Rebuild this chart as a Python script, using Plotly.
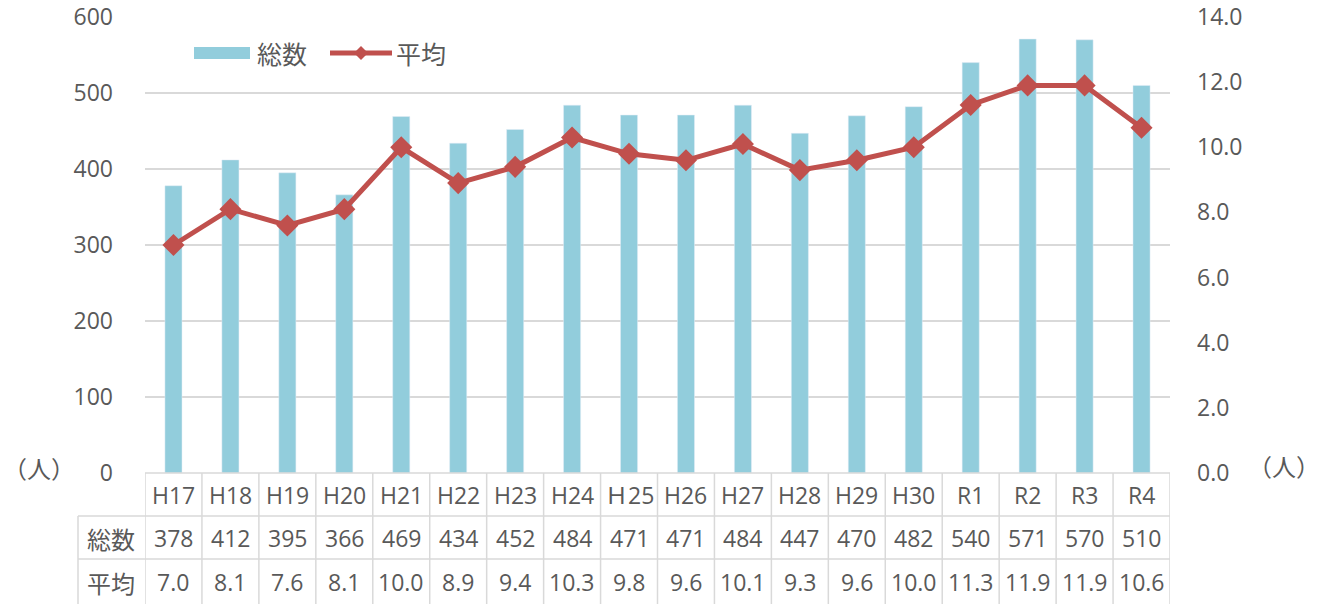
import plotly.graph_objects as go

categories = ["H17", "H18", "H19", "H20", "H21", "H22", "H23", "H24", "Ｈ25", "H26",
              "H27", "H28", "H29", "H30", "R1", "R2", "R3", "R4"]
totals = [378, 412, 395, 366, 469, 434, 452, 484, 471, 471, 484, 447, 470, 482, 540, 571, 570, 510]
averages = [7.0, 8.1, 7.6, 8.1, 10.0, 8.9, 9.4, 10.3, 9.8, 9.6, 10.1, 9.3, 9.6, 10.0, 11.3, 11.9, 11.9, 10.6]
row_labels = ["総数", "平均"]
left_ticks = [0, 100, 200, 300, 400, 500, 600]
right_ticks = [0, 2, 4, 6, 8, 10, 12, 14]

BAR = "#92CDDC"
LINE = "#C0504D"
TXT = "#595959"
GRID = "#D9D9D9"
FONT = "Open Sans, Noto Sans CJK JP, sans-serif"
CJK = "Noto Sans CJK JP, sans-serif"

W, H = 1324, 604
# design coordinates are in screenshot pixels
PL, PR, PT, PB = 145, 1170, 17, 473
L, T, R, B = PL, PT, W - PR, H - PB
PW, PH = PR - PL, PB - PT

def px_x(p):
    return (p - PL) / PW

def px_y(p):
    return (PB - p) / PH

fig = go.Figure()
fig.add_trace(go.Bar(x=categories, y=totals, name="総数", marker_color=BAR,
                     width=0.3, yaxis="y", showlegend=False))
fig.add_trace(go.Scatter(x=categories, y=averages, name="平均", mode="lines+markers",
                         line=dict(color=LINE, width=5),
                         marker=dict(symbol="diamond", size=17, color=LINE),
                         yaxis="y2", showlegend=False))

shapes = []
annotations = []
n = len(categories)
y_top = 0
y_r1 = px_y(516)
y_r2 = px_y(559)
y_bot = px_y(604)
x_lab = px_x(78)
lw = 1.5

shapes.append(dict(type="line", xref="paper", yref="paper", x0=0, x1=1, y0=y_top, y1=y_top,
                   line=dict(color=GRID, width=lw)))
for yy in (y_r1, y_r2):
    shapes.append(dict(type="line", xref="paper", yref="paper", x0=x_lab, x1=1, y0=yy, y1=yy,
                       line=dict(color=GRID, width=lw)))
for i in range(n + 1):
    shapes.append(dict(type="line", xref="x", yref="paper", x0=i - 0.5, x1=i - 0.5,
                       y0=y_top, y1=y_bot, line=dict(color=GRID, width=lw)))
shapes.append(dict(type="line", xref="paper", yref="paper", x0=x_lab, x1=x_lab,
                   y0=y_r1, y1=y_bot, line=dict(color=GRID, width=lw)))

yc_head = px_y(495)
yc_tot = px_y(538)
yc_avg = px_y(582)
tf = dict(family=FONT, size=23, color=TXT)
cf = dict(family=CJK, size=24, color=TXT)
for i, c in enumerate(categories):
    annotations.append(dict(x=i, y=yc_head, xref="x", yref="paper", text=c, showarrow=False,
                            font=tf, xanchor="center", yanchor="middle"))
    annotations.append(dict(x=i, y=yc_tot, xref="x", yref="paper", text=str(totals[i]),
                            showarrow=False, font=tf, xanchor="center", yanchor="middle"))
    annotations.append(dict(x=i, y=yc_avg, xref="x", yref="paper", text=f"{averages[i]:.1f}",
                            showarrow=False, font=tf, xanchor="center", yanchor="middle"))
xc_lab = px_x(111)
for lab, yc in zip(row_labels, (yc_tot, yc_avg)):
    annotations.append(dict(x=xc_lab, y=yc, xref="paper", yref="paper", text=lab,
                            showarrow=False, font=cf, xanchor="center", yanchor="middle"))

annotations.append(dict(x=px_x(1), y=px_y(467), xref="paper", yref="paper", text="（人）",
                        showarrow=False, font=cf, xanchor="left", yanchor="middle"))
annotations.append(dict(x=px_x(1284), y=px_y(465), xref="paper", yref="paper", text="（人）",
                        showarrow=False, font=cf, xanchor="center", yanchor="middle"))

# legend
shapes.append(dict(type="rect", xref="paper", yref="paper", x0=px_x(194), x1=px_x(250),
                   y0=px_y(59), y1=px_y(47), fillcolor=BAR, line=dict(width=0)))
annotations.append(dict(x=px_x(255), y=px_y(53), xref="paper", yref="paper", text="総数",
                        showarrow=False, font=dict(family=CJK, size=25, color=TXT),
                        xanchor="left", yanchor="middle"))
shapes.append(dict(type="line", xref="paper", yref="paper", x0=px_x(330), x1=px_x(392),
                   y0=px_y(53), y1=px_y(53), line=dict(color=LINE, width=5)))
cx, cy, dx, dy = px_x(361), px_y(53), 7 / PW, 7 / PH
shapes.append(dict(type="path", xref="paper", yref="paper",
                   path=f"M {cx - dx} {cy} L {cx} {cy + dy} L {cx + dx} {cy} L {cx} {cy - dy} Z",
                   fillcolor=LINE, line=dict(width=0)))
annotations.append(dict(x=px_x(394), y=px_y(53), xref="paper", yref="paper", text="平均",
                        showarrow=False, font=dict(family=CJK, size=25, color=TXT),
                        xanchor="left", yanchor="middle"))

fig.update_layout(
    width=W, height=H,
    margin=dict(l=L, r=R, t=T, b=B, pad=0, autoexpand=False),
    paper_bgcolor="white", plot_bgcolor="white",
    font=dict(family=FONT, size=23, color=TXT),
    xaxis=dict(type="category", showticklabels=False, showgrid=False, zeroline=False,
               showline=False, ticks="", range=[-0.5, n - 0.5], automargin=False),
    yaxis=dict(range=[0, 600], tickvals=left_ticks, showgrid=True, gridcolor=GRID, gridwidth=1.5,
               zeroline=False, showline=False, ticks="", ticklabelstandoff=31, automargin=False,
               ticklabeloverflow="allow",
               tickfont=dict(family=FONT, size=23, color=TXT)),
    yaxis2=dict(range=[0, 14], tickvals=right_ticks, tickformat=".1f", overlaying="y",
                side="right", showgrid=False, zeroline=False, showline=False, ticks="",
                ticklabelstandoff=26, automargin=False, ticklabeloverflow="allow",
                tickfont=dict(family=FONT, size=23, color=TXT)),
    shapes=shapes,
    annotations=annotations,
    showlegend=False,
)

fig.write_html("out.html", config={"displayModeBar": False},
               post_script="document.body.style.margin='0';document.body.style.overflow='hidden';")
